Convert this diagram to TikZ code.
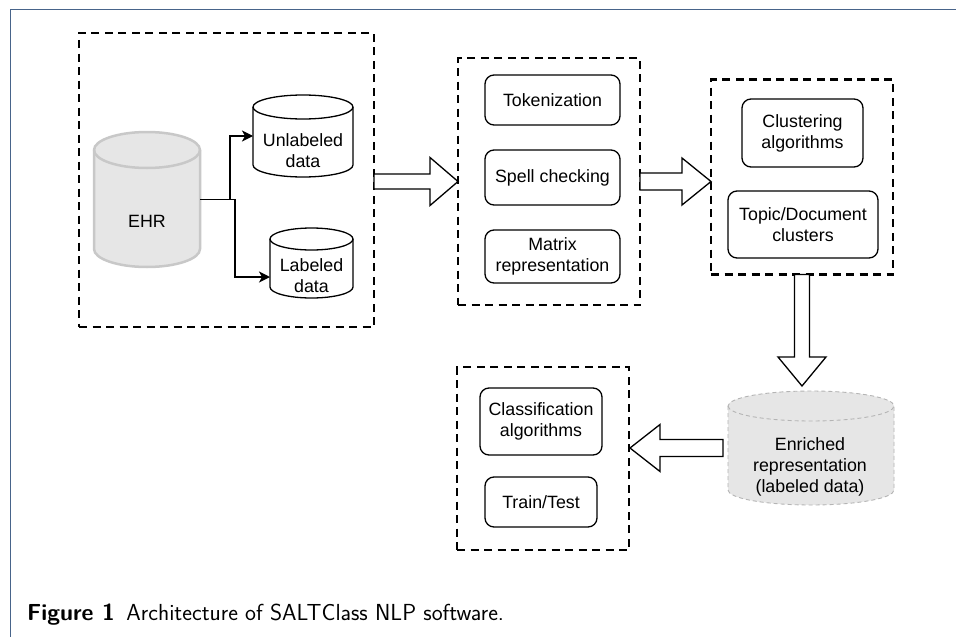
\documentclass[tikz,border=0pt]{standalone}
\usepackage{fontspec}
\setmainfont{Liberation Sans}
\usetikzlibrary{calc,arrows.meta}
\definecolor{framec}{RGB}{72,100,138}
\definecolor{cylfill}{RGB}{230,230,230}
\definecolor{ehrline}{RGB}{200,200,200}
\definecolor{enrline}{RGB}{180,180,180}
\newcommand\dfont{\fontsize{17.8}{21}\selectfont}
\newcommand\cylpath[6]{%
  \path[#1] ({#2-#5},{#3+#6}) -- ({#2-#5},{#4-#6})
    arc[start angle=180,end angle=0,x radius=#5,y radius=#6]
    -- ({#2+#5},{#3+#6})
    arc[start angle=0,end angle=-180,x radius=#5,y radius=#6] -- cycle;
  \path[#1,fill=none] ({#2-#5},{#3+#6})
    arc[start angle=180,end angle=0,x radius=#5,y radius=#6];
}
\tikzset{
  dbox/.style={draw, line width=2.9pt, dash pattern=on 8pt off 5.5pt, inner sep=0pt, outer sep=0pt},
  rbox/.style={draw, line width=1.3pt, rounded corners=9pt, inner sep=0pt, outer sep=0pt, align=center, font=\dfont},
  cnode/.style={inner sep=0pt, outer sep=0pt},
  ctext/.style={align=center, font=\dfont, inner sep=0pt},
  blk/.style={draw, line width=1.3pt, fill=white, line join=miter},
  conn/.style={line width=1.5pt, -{Stealth[length=11pt,width=11pt,inset=3pt]}},
  ehrcyl/.style={draw=ehrline, fill=cylfill, line width=2.5pt},
  plaincyl/.style={draw=black, fill=white, line width=1.3pt},
  enrcyl/.style={draw=enrline, fill=cylfill, line width=0.9pt, dash pattern=on 4pt off 3pt},
}
\begin{document}
\begin{tikzpicture}[x=1pt,y=-1pt]
\useasboundingbox (0,0) rectangle (956,637);
\fill[white] (0,0) rectangle (956,637);
\draw[framec, line width=1.2pt] (956,9.5) -- (10.5,9.5) -- (10.5,637);

% dashed group boxes
\node[dbox, minimum width=295pt, minimum height=294pt] (b1) at (226.5,180) {};
\node[dbox, minimum width=182pt, minimum height=247pt] (b2) at (549,181.5) {};
\node[dbox, minimum width=182pt, minimum height=195pt] (b3) at (802,177) {};
\node[dbox, minimum width=172pt, minimum height=183pt] (b4) at (543,458.5) {};

% cylinders
\cylpath{ehrcyl}{147}{132}{267}{53}{18}
\node[cnode, minimum width=106pt, minimum height=135pt] (ehr) at (147,199.5) {};
\node[ctext] (ehrt) at (147,221) {EHR};

\cylpath{plaincyl}{303}{95}{177}{50}{12}
\node[cnode, minimum width=100pt, minimum height=82pt] (unl) at (303,136) {};
\node[ctext] (unlt) at (303,151) {Unlabeled\\data};

\cylpath{plaincyl}{311.5}{228}{298}{41.5}{11}
\node[cnode, minimum width=83pt, minimum height=70pt] (lab) at (311.5,263) {};
\node[ctext] (labt) at (311.5,276) {Labeled\\data};

\cylpath{enrcyl}{811}{391}{505}{83}{15}
\node[cnode, minimum width=166pt, minimum height=114pt] (enr) at (811,448) {};
\node[ctext] (enrt) at (810,467) {Enriched\\representation\\(labeled data)};

% rounded process boxes
\node[rbox, minimum width=135pt, minimum height=50pt] (tok) at (552.5,100) {Tokenization};
\node[rbox, minimum width=135pt, minimum height=55pt] (spell) at (552.5,177.5) {Spell checking};
\node[rbox, minimum width=135pt, minimum height=53pt] (mat) at (552.5,256.5) {Matrix\\representation};
\node[rbox, minimum width=121pt, minimum height=68pt] (clu) at (802.5,133) {Clustering\\algorithms};
\node[rbox, minimum width=150pt, minimum height=67pt] (top) at (803,224.5) {Topic/Document\\clusters};
\node[rbox, minimum width=122pt, minimum height=67pt] (cla) at (541,421.5) {Classification\\algorithms};
\node[rbox, minimum width=112pt, minimum height=50pt] (tt) at (541,502) {Train/Test};

% connectors from EHR
\draw[conn] (ehr.east) -- ++(30,0) |- (unl.west);
\draw[conn] (ehr.east) -- ++(35,0) |- ($(lab.west)+(0,14)$);

% block arrows
\draw[blk] let \p1=(b1.east), \p2=(b2.west) in
  (\x1,\y2+7.5pt) -- (\x2-28pt,\y2+7.5pt) -- (\x2-28pt,\y2+24pt) -- (\x2,\y2)
  -- (\x2-28pt,\y2-24pt) -- (\x2-28pt,\y2-7.5pt) -- (\x1,\y2-7.5pt) -- cycle;
\draw[blk] let \p1=(b2.east), \p2=(b3.west) in
  (\x1,\y1+8.5pt) -- (\x2-29pt,\y1+8.5pt) -- (\x2-29pt,\y1+23.5pt) -- (\x2,\y1)
  -- (\x2-29pt,\y1-23.5pt) -- (\x2-29pt,\y1-8.5pt) -- (\x1,\y1-8.5pt) -- cycle;
\draw[blk] let \p1=(b3.south), \p2=(enr.north) in
  (\x1-7.5pt,\y1) -- (\x1-7.5pt,\y2+34pt) -- (\x1-24pt,\y2+34pt) -- (\x1,\y2+5pt)
  -- (\x1+24pt,\y2+34pt) -- (\x1+7.5pt,\y2+34pt) -- (\x1+7.5pt,\y1) -- cycle;
\draw[blk] let \p1=(enr.west), \p2=(b4.east) in
  (\x1-5pt,\y1+8.5pt) -- (\x2+31pt,\y1+8.5pt) -- (\x2+31pt,\y1+23.5pt) -- (\x2+1pt,\y1)
  -- (\x2+31pt,\y1-23.5pt) -- (\x2+31pt,\y1-8.5pt) -- (\x1-5pt,\y1-8.5pt) -- cycle;

% caption
\node[anchor=base west, inner sep=0pt, font=\sffamily\fontsize{23.2}{26}\selectfont] (cap) at (27,620)
  {\textbf{Figure 1}\hspace{0.5em}Architecture of SALTClass NLP software.};
\end{tikzpicture}
\end{document}
